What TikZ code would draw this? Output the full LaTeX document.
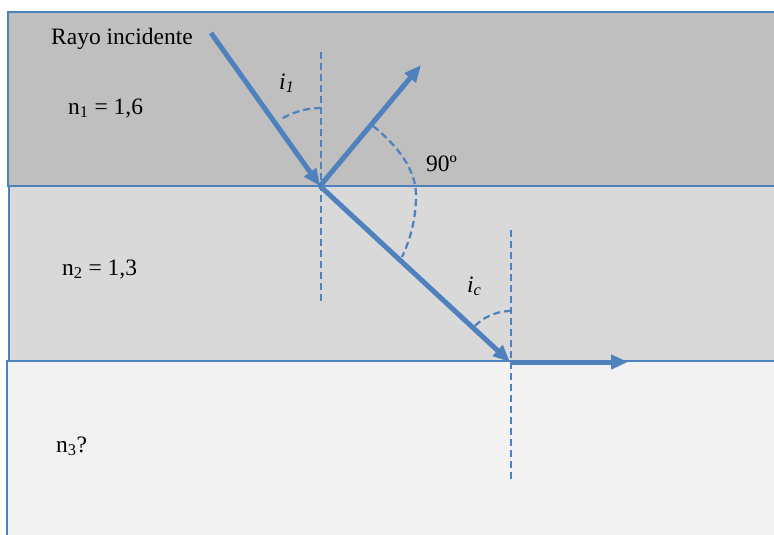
\documentclass[tikz,border=0pt]{standalone}
\usepackage{fontspec}
\setmainfont{Liberation Serif}
\usetikzlibrary{arrows.meta}
\definecolor{ofblue}{HTML}{4F81BD}
\definecolor{bandA}{HTML}{BFBFBF}
\definecolor{bandB}{HTML}{D9D9D9}
\definecolor{bandC}{HTML}{F2F2F2}
\tikzset{
  band/.style={draw=ofblue, line width=1.6pt},
  ray/.style={draw=ofblue, line width=5pt, -{Triangle[length=17pt,width=14pt]}},
  normalline/.style={draw=ofblue, line width=2.2pt, dash pattern=on 7pt off 4pt},
  anglearc/.style={draw=ofblue, line width=2.2pt, dash pattern=on 7pt off 4pt},
  lbl/.style={font=\fontsize{23.5}{27}\selectfont, inner sep=0pt, anchor=base west},
}
\begin{document}
\begin{tikzpicture}[x=1pt,y=-1pt]
\path[use as bounding box] (0,0) rectangle (774,535);
\clip (0,0) rectangle (774,535);
% bands
\fill[white] (0,0) rectangle (774,535);
\path[band, fill=bandA] (8,12) rectangle (800,186);
\path[band, fill=bandB] (9,186) rectangle (800,361);
\path[band, fill=bandC] (7,361) rectangle (800,560);
% normals
\coordinate (n1top) at (321,52);
\coordinate (n1bot) at (321,305);
\coordinate (n2top) at (511,230);
\coordinate (n2bot) at (511,482);
\draw[normalline] (n1top) -- (n1bot);
\draw[normalline] (n2top) -- (n2bot);
% angle arcs
\draw[anglearc] plot[domain=90:121, samples=20] ({321+77*cos(\x)}, {185-77*sin(\x)});
\draw[anglearc] plot[domain=90:137, samples=20] ({511+51*cos(\x)}, {362-51*sin(\x)});
\draw[anglearc] (373,126) .. controls (398,146) and (416,170) .. (416,195)
   .. controls (416,220) and (410,240) .. (402,257);
% rays
\coordinate (src) at (211,33);
\coordinate (P1) at (320,186);
\coordinate (refl) at (421,65);
\coordinate (P2) at (510,362);
\coordinate (out) at (628,362);
\draw[ray] (src) -- (P1);
\draw[ray] (P1) -- (refl);
\draw[ray] (P1) -- (P2);
\draw[ray] (P2) -- (out);
% labels
\node[lbl] (rayo) at (51,45) {Rayo incidente};
\node[lbl] (n1) at (68,114) {n\textsubscript{1} = 1,6};
\node[lbl] (n2) at (62,275) {n\textsubscript{2} = 1,3};
\node[lbl] (n3) at (56,452) {n\textsubscript{3}?};
\node[lbl] (ninety) at (426,171) {90º};
\node[lbl] (i1) at (279,89) {\itshape i\textsubscript{1}};
\node[lbl] (ic) at (467,292) {\itshape i\textsubscript{c}};
\end{tikzpicture}
\end{document}
